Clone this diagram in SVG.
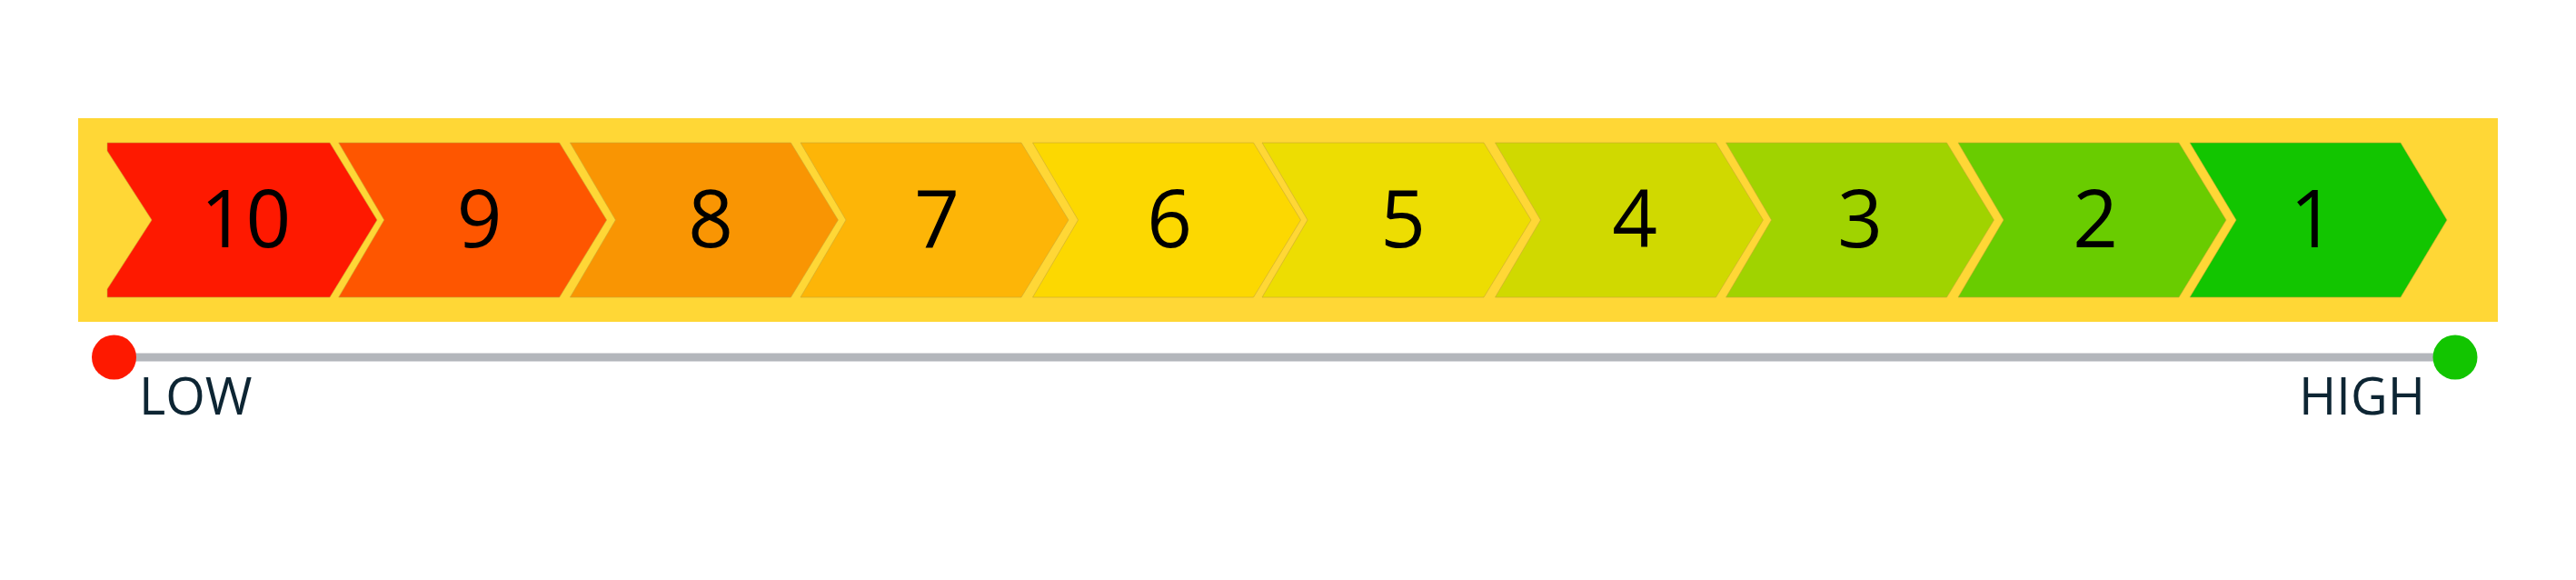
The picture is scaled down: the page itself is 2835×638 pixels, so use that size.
<svg xmlns="http://www.w3.org/2000/svg" width="2835" height="638" viewBox="0 0 2835 638">
  <style>
    .chev { stroke: #C9A834; stroke-width: 1; stroke-opacity: 0.6; }
    .num { font-family: "Open Sans", "Noto Sans", "DejaVu Sans", sans-serif; font-size: 87px; fill: #000000; text-anchor: middle; }
    .lbl { font-family: "Open Sans", "Noto Sans", "DejaVu Sans", sans-serif; font-size: 56px; fill: #0D2533; }
  </style>
  <rect x="0" y="0" width="2835" height="638" fill="#FFFFFF"/>
  <g id="band">
    <rect x="86" y="130" width="2663" height="224" fill="#FFD736"/>
  </g>
  <g id="node-10">
    <polygon class="chev" fill="#FE1900" transform="translate(118,0)" points="0,157 245,157 297,242 245,327 0,327 0,318 49,242 0,166"/>
    <text class="num" x="270.5" y="272">10</text>
  </g>
  <g id="node-9">
    <polygon class="chev" fill="#FE5600" transform="translate(372.7,0)" points="0,157 243,157 295,242 243,327 0,327 50,242"/>
    <text class="num" x="527.5" y="272">9</text>
  </g>
  <g id="node-8">
    <polygon class="chev" fill="#F99503" transform="translate(627.4,0)" points="0,157 243,157 295,242 243,327 0,327 50,242"/>
    <text class="num" x="782" y="272">8</text>
  </g>
  <g id="node-7">
    <polygon class="chev" fill="#FDB507" transform="translate(881,0)" points="0,157 243,157 295,242 243,327 0,327 50,242"/>
    <text class="num" x="1031" y="272">7</text>
  </g>
  <g id="node-6">
    <polygon class="chev" fill="#FCD801" transform="translate(1136.5,0)" points="0,157 243,157 295,242 243,327 0,327 50,242"/>
    <text class="num" x="1287" y="272">6</text>
  </g>
  <g id="node-5">
    <polygon class="chev" fill="#EDDD02" transform="translate(1389,0)" points="0,157 244,157 296,242 244,327 0,327 50,242"/>
    <text class="num" x="1544" y="272">5</text>
  </g>
  <g id="node-4">
    <polygon class="chev" fill="#D0D900" transform="translate(1645.5,0)" points="0,157 243,157 295,242 243,327 0,327 50,242"/>
    <text class="num" x="1799" y="272">4</text>
  </g>
  <g id="node-3">
    <polygon class="chev" fill="#A0D300" transform="translate(1899.5,0)" points="0,157 243,157 295,242 243,327 0,327 50,242"/>
    <text class="num" x="2047" y="272">3</text>
  </g>
  <g id="node-2">
    <polygon class="chev" fill="#69CC00" transform="translate(2155,0)" points="0,157 243,157 295,242 243,327 0,327 50,242"/>
    <text class="num" x="2306" y="272">2</text>
  </g>
  <g id="node-1">
    <polygon class="chev" fill="#12C500" transform="translate(2410,0)" points="0,157 232,157 283,242 232,327 0,327 51,242"/>
    <text class="num" x="2545" y="272">1</text>
  </g>
  <g id="connectors">
    <line x1="125" y1="393" x2="2702" y2="393" stroke="#B3B6BB" stroke-width="9"/>
  </g>
  <g id="low">
    <circle cx="125.5" cy="393" r="24.5" fill="#FE1900"/>
    <text class="lbl" x="153" y="456">LOW</text>
  </g>
  <g id="high">
    <circle cx="2702" cy="393" r="24.5" fill="#12C500"/>
    <text class="lbl" x="2669" y="456" text-anchor="end">HIGH</text>
  </g>
</svg>
